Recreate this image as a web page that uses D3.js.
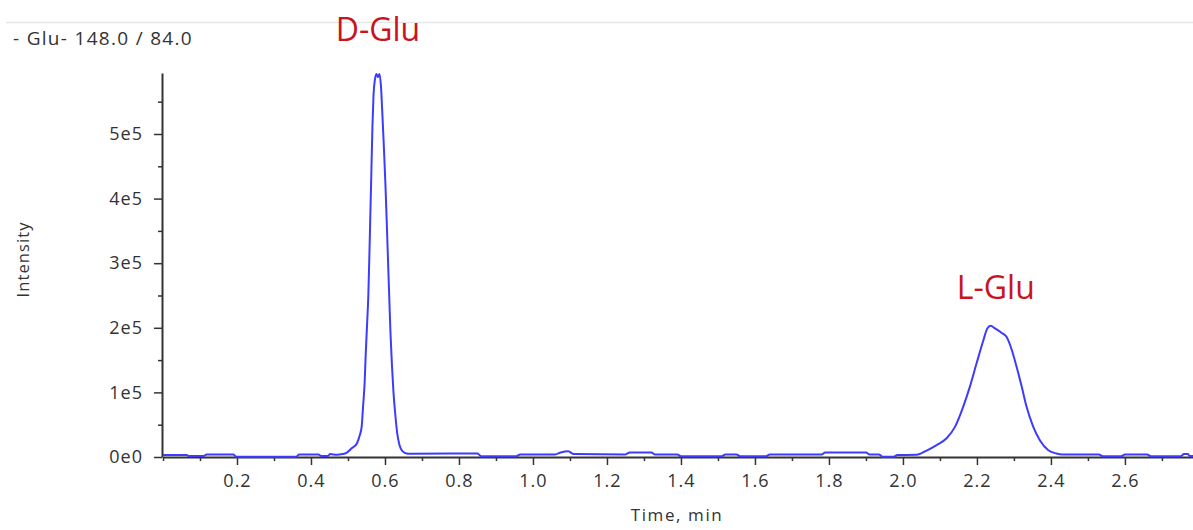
<!DOCTYPE html>
<html>
<head>
<meta charset="utf-8">
<script src="https://cdn.jsdelivr.net/npm/d3@7"></script>
<style>
  body { margin: 0; background: #fff; }
  svg { display: block; font-family: "Open Sans", "Noto Sans", sans-serif; }
</style>
</head>
<body>
<svg id="chart" width="1193" height="530"></svg>
<script>
// trace name shown top-left
const traceTitle = "- Glu- 148.0 / 84.0";

// retention time (min) and intensity
const times = [
  0.000, 0.030, 0.064, 0.070, 0.110, 0.118, 0.190, 0.198, 0.360, 0.368, 0.420, 0.428, 0.445, 0.452,
  0.470, 0.485, 0.496, 0.510, 0.524, 0.532, 0.537, 0.541, 0.545, 0.548, 0.552, 0.555, 0.559, 0.563,
  0.566, 0.569, 0.573, 0.577, 0.581, 0.585, 0.589, 0.593, 0.597, 0.601, 0.605, 0.609, 0.612, 0.615,
  0.619, 0.623, 0.628, 0.633, 0.639, 0.647, 0.658, 0.672,
  0.850, 0.860, 0.955, 0.965, 1.060, 1.075, 1.095, 1.110, 1.250, 1.262, 1.320, 1.330, 1.390, 1.400,
  1.510, 1.520, 1.550, 1.560, 1.630, 1.640, 1.780, 1.790, 1.900, 1.910, 1.935, 1.945, 1.975, 1.985,
  2.037, 2.064, 2.091, 2.118, 2.141, 2.163, 2.181, 2.199, 2.217, 2.228, 2.237, 2.249, 2.267, 2.280,
  2.294, 2.307, 2.321, 2.334, 2.352, 2.370, 2.393, 2.415, 2.430, 2.530, 2.540, 2.590, 2.600, 2.660,
  2.670, 2.750, 2.760, 2.770, 2.775, 2.784
];
const intensity = [
  3e3, 3e3, 3e3, 1.5e3, 1.5e3, 4e3, 4e3, 0.5e3, 0.5e3, 4e3, 4e3, 1.5e3, 1.5e3, 4.5e3,
  3.5e3, 4.5e3, 6.5e3, 1.35e4, 2.1e4, 3.4e4, 4.7e4, 8.0e4, 1.15e5, 1.6e5, 2.1e5, 2.5e5, 3.4e5, 4.36e5,
  5.1e5, 5.6e5, 5.85e5, 5.93e5, 5.88e5, 5.93e5, 5.75e5, 5.3e5, 4.8e5, 4.25e5, 3.6e5, 2.9e5, 2.4e5, 1.9e5,
  1.4e5, 1.0e5, 6.5e4, 3.7e4, 1.9e4, 9e3, 5.5e3, 5e3,
  5.5e3, 1e3, 1e3, 4e3, 4e3, 7e3, 9e3, 4.5e3, 4e3, 7e3, 7e3, 4e3, 4e3, 1e3,
  1e3, 4e3, 4e3, 1e3, 1e3, 4e3, 4e3, 7e3, 7e3, 4e3, 4e3, 0.5e3, 0.5e3, 3e3,
  3.5e3, 1.0e4, 1.85e4, 2.9e4, 4.7e4, 7.8e4, 1.09e5, 1.45e5, 1.8e5, 1.99e5, 2.03e5, 1.99e5, 1.92e5, 1.86e5,
  1.66e5, 1.4e5, 1.09e5, 7.8e4, 4.7e4, 2.6e4, 1.05e4, 5.5e3, 4e3, 4e3, 1e3, 1e3, 4e3, 4e3,
  1e3, 1e3, 4.5e3, 4.5e3, 1.5e3, 1.5e3
];

// peak annotations
const peakNames = ["D-Glu", "L-Glu"];
const peakTimes = [0.581, 2.251];
const peakLabelLevels = [6.44e5, 2.44e5];

// axis ticks
const xMajorTicks = [0.2, 0.4, 0.6, 0.8, 1.0, 1.2, 1.4, 1.6, 1.8, 2.0, 2.2, 2.4, 2.6];
const xMinorTicks = [0.0, 0.1, 0.3, 0.5, 0.7, 0.9, 1.1, 1.3, 1.5, 1.7, 1.9, 2.1, 2.3, 2.5, 2.7];
const yMajorTicks = [0, 1e5, 2e5, 3e5, 4e5, 5e5];
const yTickLabels = ["0e0", "1e5", "2e5", "3e5", "4e5", "5e5"];
const yMinorTicks = [0.5e5, 1.5e5, 2.5e5, 3.5e5, 4.5e5, 5.5e5];

const svg = d3.select("#chart");

const x = d3.scaleLinear().domain([0, 2.784]).range([163, 1193]);
const y = d3.scaleLinear().domain([0, 5.944e5]).range([457, 73]);

const axisColor = "#333";
const textColor = "#333";

// top separator line and trace title
svg.append("line")
  .attr("x1", 6).attr("x2", 1193)
  .attr("y1", 22.5).attr("y2", 22.5)
  .style("stroke", "#e6e6e6")
  .style("stroke-width", 1.5);

svg.append("text")
  .attr("x", 13)
  .attr("y", 45)
  .style("font-size", "19px")
  .style("letter-spacing", "1.3px")
  .style("fill", textColor)
  .text(traceTitle);

// x axis
const xAxisG = svg.append("g").attr("transform", "translate(0,457)");
xAxisG.call(
  d3.axisBottom(x).tickValues(xMajorTicks).tickSize(8).tickSizeOuter(0).tickPadding(9)
    .tickFormat(d3.format(".1f"))
);
xAxisG.append("g").call(
  d3.axisBottom(x).tickValues(xMinorTicks).tickSize(4).tickSizeOuter(0).tickFormat("")
).select(".domain").remove();

// y axis
const yAxisG = svg.append("g").attr("transform", "translate(162,0)");
yAxisG.call(
  d3.axisLeft(y).tickValues(yMajorTicks).tickSize(8).tickSizeOuter(0).tickPadding(11)
    .tickFormat((d, i) => yTickLabels[i])
);
yAxisG.append("g").call(
  d3.axisLeft(y).tickValues(yMinorTicks).tickSize(4).tickSizeOuter(0).tickFormat("")
).select(".domain").remove();

svg.selectAll(".domain")
  .style("stroke", axisColor)
  .style("stroke-width", 2);
svg.selectAll(".tick line")
  .style("stroke", axisColor)
  .style("stroke-width", 1.5);
svg.selectAll(".tick text")
  .style("font-family", "'Open Sans', sans-serif")
  .style("font-size", "18px")
  .style("letter-spacing", "1px")
  .style("fill", textColor);

// axis titles
svg.append("text")
  .attr("transform", "translate(28.5,259.5) rotate(-90)")
  .attr("text-anchor", "middle")
  .style("font-size", "16.5px")
  .style("letter-spacing", "1.1px")
  .style("fill", textColor)
  .text("Intensity");

svg.append("text")
  .attr("x", 677)
  .attr("y", 521)
  .attr("text-anchor", "middle")
  .style("font-size", "17px")
  .style("letter-spacing", "1.6px")
  .style("fill", textColor)
  .text("Time, min");

// chromatogram trace
const points = times.map((t, i) => [t, intensity[i]]);
const line = d3.line()
  .x(d => x(d[0]))
  .y(d => y(d[1]))
  .curve(d3.curveMonotoneX);

svg.append("path")
  .datum(points)
  .attr("d", line)
  .style("fill", "none")
  .style("stroke", "#3c3cff")
  .style("stroke-width", 2)
  .style("stroke-linejoin", "round");

// peak labels
svg.selectAll(".peakLabel")
  .data(peakNames)
  .enter()
  .append("text")
  .attr("class", "peakLabel")
  .attr("x", (d, i) => x(peakTimes[i]))
  .attr("y", (d, i) => y(peakLabelLevels[i]))
  .attr("text-anchor", "middle")
  .style("font-size", "32px")
  .style("fill", "#c8141e")
  .text(d => d);
</script>
</body>
</html>
